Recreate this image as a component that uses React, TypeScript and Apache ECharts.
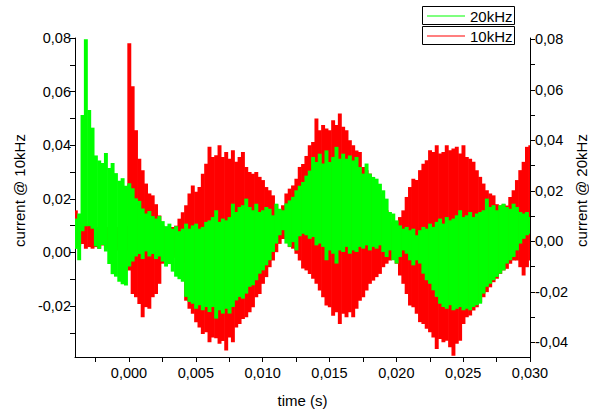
import React, { useEffect, useRef } from "react";
import * as echarts from "echarts";

// time grid: first sample and spacing (s)
const T0 = -0.004;
const DT = 0.00025;

// 10 kHz current (left axis) – upper / lower envelope per sample
const RED_HI = [
  0.0157, 0.012, 0.0095, 0.01, 0.0107, 0.0095, 0.008, 0.0095, 0.008, 0.0095,
  0.008, 0.009, 0.0095, 0.008, 0.0107, 0.01, 0.078, 0.062, 0.0456, 0.035,
  0.0307, 0.0257, 0.022, 0.0213, 0.018, 0.0138, 0.01, 0.0088, 0.0076, 0.0095,
  0.01, 0.0126, 0.015, 0.0176, 0.022, 0.025, 0.0226, 0.0244, 0.0294, 0.0331,
  0.0394, 0.0356, 0.0363, 0.04, 0.0356, 0.0375, 0.035, 0.0381, 0.0338, 0.0356,
  0.0375, 0.0319, 0.03, 0.0294, 0.03, 0.0282, 0.027, 0.0244, 0.0232, 0.0213,
  0.018, 0.0157, 0.0176, 0.022, 0.0238, 0.025, 0.0275, 0.0319, 0.033, 0.036,
  0.04, 0.0412, 0.05, 0.0456, 0.0475, 0.0462, 0.0456, 0.0493, 0.0475, 0.0518,
  0.0469, 0.0456, 0.0419, 0.04, 0.038, 0.0375, 0.0319, 0.0307, 0.0294, 0.027,
  0.0244, 0.022, 0.0194, 0.0157, 0.0113, 0.0095, 0.0095, 0.0132, 0.0157, 0.0207,
  0.0244, 0.0275, 0.027, 0.0307, 0.0331, 0.0344, 0.0381, 0.0375, 0.04, 0.0369,
  0.0375, 0.04, 0.0381, 0.0388, 0.0394, 0.0369, 0.04, 0.0356, 0.035, 0.0338,
  0.0307, 0.0282, 0.0257, 0.0232, 0.022, 0.0213, 0.018, 0.0175, 0.018, 0.0175,
  0.0207, 0.0232, 0.027, 0.0307, 0.0338, 0.0394, 0.04,
];
const RED_LO = [
  0.002, 0.0026, 0.0032, 0.0014, 0.002, 0.0014, 0.002, 0.0014, 0.0026, 0.0014,
  0.002, 0.0014, 0.0007, 0.002, 0.0007, 0.0007, -0.0067, -0.0155, -0.0167, -0.0192,
  -0.0242, -0.0204, -0.021, -0.0167, -0.0155, -0.0117, -0.0042, -0.0017, -0.0005, -0.001,
  -0.002, -0.003, -0.004, -0.018, -0.021, -0.0229, -0.026, -0.028, -0.0304, -0.0298,
  -0.0335, -0.0317, -0.032, -0.0341, -0.033, -0.0366, -0.0317, -0.0335, -0.028, -0.0267,
  -0.0248, -0.0242, -0.0223, -0.0204, -0.0167, -0.0155, -0.0117, -0.0092, -0.0055, -0.003,
  0.0001, 0.0032, 0.005, 0.0057, 0.002, 0.0014, -0.0005, -0.003, -0.006, -0.0067,
  -0.008, -0.0098, -0.0117, -0.0142, -0.0167, -0.0198, -0.0204, -0.0236, -0.0223, -0.0267,
  -0.0229, -0.0242, -0.0223, -0.0242, -0.021, -0.018, -0.0167, -0.0142, -0.0117, -0.0105,
  -0.0092, -0.008, -0.0055, -0.0042, -0.003, -0.0024, -0.0042, -0.0086, -0.0117, -0.0155,
  -0.0198, -0.0204, -0.0229, -0.026, -0.0267, -0.0285, -0.0298, -0.0317, -0.036, -0.0323,
  -0.0335, -0.0329, -0.0354, -0.0385, -0.0341, -0.0329, -0.0267, -0.0242, -0.0235, -0.0217,
  -0.0204, -0.0186, -0.0167, -0.0148, -0.013, -0.0111, -0.0098, -0.008, -0.0067, -0.0061,
  -0.0042, -0.003, -0.003, -0.0055, -0.0086, -0.0055, -0.003,
];

// 20 kHz current (right axis) – upper / lower envelope per sample
const GREEN_HI = [
  0.009, 0.011, 0.05, 0.08, 0.052, 0.045, 0.034, 0.032, 0.031, 0.035,
  0.029, 0.031, 0.027, 0.024, 0.025, 0.022, 0.023, 0.021, 0.017, 0.016,
  0.013, 0.011, 0.012, 0.01, 0.009, 0.01, 0.008, 0.006, 0.007, 0.005,
  0.006, 0.004, 0.005, 0.007, 0.005, 0.0063, 0.007, 0.005, 0.0057, 0.0077,
  0.0083, 0.0096, 0.0123, 0.0077, 0.009, 0.0083, 0.0096, 0.0149, 0.0116, 0.0136,
  0.0143, 0.0169, 0.0136, 0.0123, 0.0149, 0.0116, 0.0123, 0.0136, 0.0129, 0.0103,
  0.0149, 0.0129, 0.0123, 0.015, 0.0162, 0.0176, 0.0202, 0.022, 0.0235, 0.026,
  0.028, 0.0334, 0.0314, 0.0347, 0.0308, 0.036, 0.0314, 0.0334, 0.0374, 0.0327,
  0.0347, 0.0327, 0.034, 0.032, 0.0334, 0.0294, 0.0268, 0.0308, 0.0268, 0.0255,
  0.0248, 0.0228, 0.0202, 0.0169, 0.0116, 0.011, 0.0083, 0.0063, 0.005, 0.0057,
  0.0044, 0.005, 0.0024, 0.0044, 0.0057, 0.005, 0.007, 0.0057, 0.0077, 0.009,
  0.007, 0.0096, 0.0083, 0.009, 0.0103, 0.0123, 0.0096, 0.0103, 0.0116, 0.0096,
  0.011, 0.0116, 0.0123, 0.0169, 0.0136, 0.0143, 0.0123, 0.0143, 0.0149, 0.0136,
  0.0129, 0.0149, 0.0136, 0.0116, 0.011, 0.0116, 0.0096,
];
const GREEN_LO = [
  -0.003, -0.0075, 0.004, 0.006, 0.006, 0.005, -0.002, -0.003, -0.0015, -0.004,
  -0.009, -0.013, -0.014, -0.016, -0.017, -0.0175, -0.01, -0.008, -0.006, -0.005,
  -0.007, -0.004, -0.006, -0.005, -0.007, -0.006, -0.008, -0.01, -0.009, -0.012,
  -0.014, -0.015, -0.016, -0.022, -0.024, -0.0247, -0.0267, -0.0253, -0.0273, -0.026,
  -0.028, -0.026, -0.0306, -0.0273, -0.0286, -0.0267, -0.0286, -0.026, -0.0234, -0.022,
  -0.0227, -0.0207, -0.018, -0.0174, -0.0154, -0.0128, -0.0115, -0.0095, -0.0075, -0.0042,
  -0.0009, 0.0024, 0.0044, -0.0009, -0.0022, -0.0003, -0.0036, 0.002, 0.003, 0.0024,
  0.001, 0.0017, -0.0016, -0.0009, -0.0022, -0.0075, -0.0036, -0.0049, -0.0088, -0.0036,
  -0.0042, -0.0022, -0.0049, -0.0036, -0.0042, -0.0022, -0.0029, -0.0016, -0.0036, -0.0022,
  -0.0029, -0.0016, -0.0042, -0.0062, -0.0036, -0.0075, -0.0088, -0.0062, -0.0036, -0.0049,
  -0.0075, -0.0095, -0.0075, -0.0088, -0.0128, -0.0154, -0.0168, -0.0194, -0.022, -0.0247,
  -0.026, -0.0267, -0.0253, -0.0273, -0.0267, -0.026, -0.0273, -0.0267, -0.0273, -0.026,
  -0.0253, -0.0247, -0.0207, -0.018, -0.0168, -0.0154, -0.0141, -0.0128, -0.0115, -0.0088,
  -0.0075, -0.0062, -0.0036, -0.0009, 0.001, 0.0024, 0.003,
];

// axes
const X_MIN = -0.00404;
const X_MAX = 0.03;
const X_TICKS = [-0.0025, 0, 0.0025, 0.005, 0.0075, 0.01, 0.0125, 0.015, 0.0175, 0.02, 0.0225, 0.025, 0.0275, 0.03];
const X_LABELS = [0, 0.005, 0.01, 0.015, 0.02, 0.025, 0.03];
const YL_MIN = -0.039;
const YL_MAX = 0.08;
const YL_TICKS = [-0.03, -0.02, -0.01, 0, 0.01, 0.02, 0.03, 0.04, 0.05, 0.06, 0.07, 0.08];
const YL_LABELS = [-0.02, 0, 0.02, 0.04, 0.06, 0.08];
const YR_MIN = -0.0458;
const YR_MAX = 0.0805;
const YR_TICKS = [-0.04, -0.03, -0.02, -0.01, 0, 0.01, 0.02, 0.03, 0.04, 0.05, 0.06, 0.07, 0.08];
const YR_LABELS = [-0.04, -0.02, 0, 0.02, 0.04, 0.06, 0.08];

const FONT = '"Liberation Sans", Arial, sans-serif';

const fmt = (d: number) => (v: number) => v.toFixed(d).replace(".", ",");

function bandSeries(name: string, lo: number[], hi: number[], color: string, yAxisIndex: number) {
  const data = lo.map((l, i) => [+(T0 + i * DT).toFixed(6), l, hi[i]]);
  return {
    type: "custom",
    name,
    xAxisIndex: 0,
    yAxisIndex,
    data,
    encode: { x: 0, y: [1, 2] },
    renderItem: (params: any, api: any) => {
      const t = api.value(0);
      const l = api.value(1);
      const h = api.value(2);
      const p1 = api.coord([t - DT / 2, h]);
      const p2 = api.coord([t + DT / 2, l]);
      const cs = params.coordSys;
      const r = echarts.graphic.clipRectByRect(
        { x: p1[0], y: p1[1], width: p2[0] - p1[0] + 0.6, height: p2[1] - p1[1] },
        { x: cs.x, y: cs.y, width: cs.width, height: cs.height }
      );
      if (!r) return null;
      return { type: "rect", shape: r, style: { fill: color } };
    },
  };
}

export default function App() {
  const ref = useRef<HTMLDivElement>(null);
  useEffect(() => {
    if (!ref.current) return;
    const chart = echarts.init(ref.current, null, { renderer: "svg" });
    const axisLine = { show: true, onZero: false, lineStyle: { color: "#000", width: 1 } };
    const labelStyle = { fontSize: 14.5, fontFamily: FONT, color: "#000" };
    chart.setOption({
      animation: false,
      backgroundColor: "#fff",
      grid: { left: 75, right: 59, top: 38, bottom: 56, containLabel: false, outerBoundsMode: "none" },
      xAxis: {
        type: "value",
        min: X_MIN,
        max: X_MAX,
        axisLine,
        axisTick: { show: true, length: 5, customValues: X_TICKS, lineStyle: { color: "#000" } },
        axisLabel: { ...labelStyle, customValues: X_LABELS, formatter: fmt(3), margin: 8 },
        splitLine: { show: false },
        name: "time (s)",
        nameLocation: "middle",
        nameGap: 36,
        nameMoveOverlap: false,
        nameTextStyle: { fontSize: 15, fontFamily: FONT, color: "#000" },
      },
      yAxis: [
        {
          type: "value",
          position: "left",
          min: YL_MIN,
          max: YL_MAX,
          axisLine,
          axisTick: { show: true, length: 5, customValues: YL_TICKS, lineStyle: { color: "#000" } },
          axisLabel: { ...labelStyle, customValues: YL_LABELS, formatter: fmt(2), margin: 4 },
          splitLine: { show: false },
          name: "current @ 10kHz",
          nameLocation: "middle",
          nameGap: 48,
          nameMoveOverlap: false,
          nameTextStyle: { fontSize: 15, fontFamily: FONT, color: "#000", padding: [0, 0, 0, 14] },
        },
        {
          type: "value",
          position: "right",
          min: YR_MIN,
          max: YR_MAX,
          axisLine,
          axisTick: { show: true, length: 5, customValues: YR_TICKS, lineStyle: { color: "#000" } },
          axisLabel: { ...labelStyle, customValues: YR_LABELS, formatter: fmt(2), margin: 5 },
          splitLine: { show: false },
          name: "current @ 20kHz",
          nameLocation: "middle",
          nameGap: 44,
          nameMoveOverlap: false,
          nameTextStyle: { fontSize: 15, fontFamily: FONT, color: "#000", padding: [0, 0, 0, 14] },
        },
      ],
      series: [
        bandSeries("10kHz", RED_LO, RED_HI, "#ff0000", 0),
        bandSeries("20kHz", GREEN_LO, GREEN_HI, "#00ff00", 1),
      ],
      graphic: [
        { type: "rect", shape: { x: 422.5, y: 6.5, width: 92, height: 18 }, style: { fill: "#fff", stroke: "#000", lineWidth: 1 } },
        { type: "rect", shape: { x: 422.5, y: 26.5, width: 92, height: 18 }, style: { fill: "#fff", stroke: "#000", lineWidth: 1 } },
        { type: "line", shape: { x1: 427, y1: 16, x2: 465, y2: 16 }, style: { stroke: "#00ff00", lineWidth: 1.2 } },
        { type: "line", shape: { x1: 427, y1: 36, x2: 465, y2: 36 }, style: { stroke: "#ff0000", lineWidth: 1.2 } },
        { type: "text", x: 470, y: 16, style: { text: "20kHz", fontSize: 15, fontFamily: FONT, fill: "#000", verticalAlign: "middle", align: "left" } },
        { type: "text", x: 470, y: 36, style: { text: "10kHz", fontSize: 15, fontFamily: FONT, fill: "#000", verticalAlign: "middle", align: "left" } },
      ],
    });
    return () => chart.dispose();
  }, []);
  return <div ref={ref} style={{ position: "fixed", left: 0, top: 0, width: 589, height: 413 }} />;
}
